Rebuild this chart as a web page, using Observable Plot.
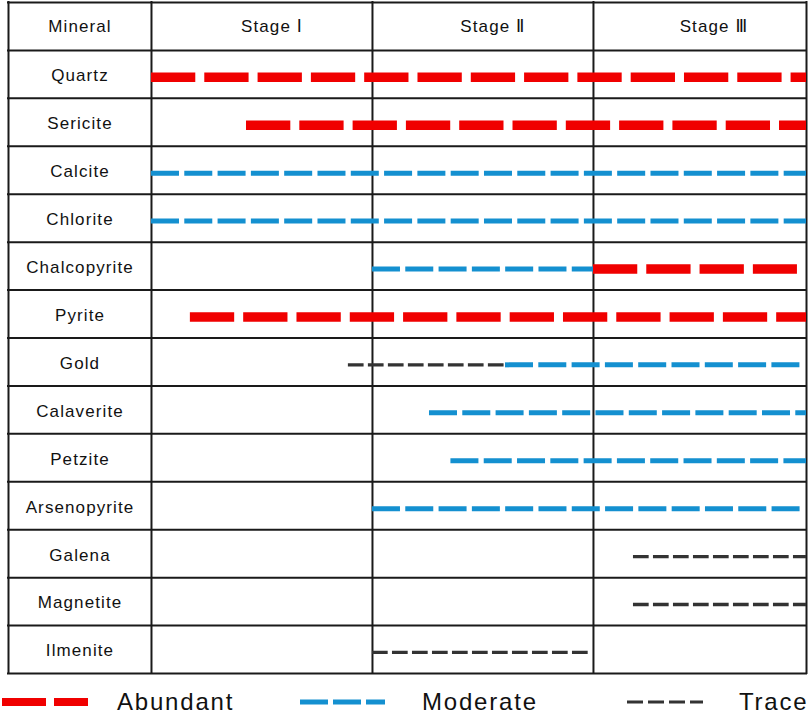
<!DOCTYPE html>
<html>
<head>
<meta charset="utf-8">
<script src="https://cdn.jsdelivr.net/npm/d3@7"></script>
<script src="https://cdn.jsdelivr.net/npm/@observablehq/plot@0.6"></script>
<style>
  html, body { margin: 0; padding: 0; background: #fff; }
  #chart svg text { letter-spacing: 1.1px; }
  #legend text { letter-spacing: 1.8px; }
</style>
</head>
<body>
<div id="chart"></div>
<div id="legend"></div>
<script>
// ---- data ----
const minerals = ["Quartz","Sericite","Calcite","Chlorite","Chalcopyrite","Pyrite","Gold","Calaverite","Petzite","Arsenopyrite","Galena","Magnetite","Ilmenite"];
const headerLabels = ["Mineral","Stage Ⅰ","Stage Ⅱ","Stage Ⅲ"];
const levels = ["Abundant","Moderate","Trace"];
// stage units: 0 = start of Stage I, 1 = start of Stage II, 2 = start of Stage III
const tableEnd = 2.964;   // visible right edge of Stage III column
const tableStart = -0.647; // left edge of the Mineral column
const segMineral = ["Quartz","Sericite","Calcite","Chlorite","Chalcopyrite","Chalcopyrite","Pyrite","Gold","Gold","Calaverite","Petzite","Arsenopyrite","Galena","Magnetite","Ilmenite"];
const segLevel   = ["Abundant","Abundant","Moderate","Moderate","Moderate","Abundant","Abundant","Trace","Moderate","Moderate","Moderate","Moderate","Trace","Trace","Trace"];
const segStart   = [0, 0.43, 0, 0, 1, 2, 0.176, 0.891, 1.602, 1.258, 1.355, 1, 2.181, 2.181, 1];
const segEnd     = [tableEnd, tableEnd, tableEnd, tableEnd, 2, 2.923, tableEnd, 1.602, 2.95, tableEnd, tableEnd, 2.95, tableEnd, tableEnd, 1.986];

// ---- styles ----
const levelStyle = {
  Abundant: {stroke: "#f00000", width: 9.5, dash: "44.3,9"},
  Moderate: {stroke: "#1490d0", width: 5, dash: "28,5.3"},
  Trace:    {stroke: "#333333", width: 3.3, dash: "15.7,4.3"}
};
const font = "'Liberation Sans', Arial, 'DejaVu Sans', sans-serif";

const segments = segMineral.map((m, i) => ({
  mineral: m, row: minerals.indexOf(m) + 1, level: segLevel[i], start: segStart[i], end: segEnd[i]
}));
const rows = d3.range(0, minerals.length + 2);
const colEdges = [tableStart, 0, 1, 2, tableEnd];
const headers = headerLabels.map((t, i) => ({text: t, x: i === 0 ? (tableStart + 0) / 2 : i - 0.5}));
const labelRows = minerals.map((m, i) => ({text: m, row: i + 1}));

const chart = Plot.plot({
  width: 809,
  height: 680,
  marginLeft: 8,
  marginRight: 3,
  marginTop: 2,
  marginBottom: 7,
  x: {domain: [tableStart, tableEnd], axis: null},
  y: {domain: [0, minerals.length + 1], reverse: true, axis: null},
  style: {fontFamily: font, background: "#fff"},
  marks: [
    Plot.ruleY(rows, {y: d => d, x1: tableStart, x2: tableEnd, stroke: "#1a1a1a", strokeWidth: 2, strokeLinecap: "square"}),
    Plot.ruleX(colEdges, {x: d => d, y1: 0, y2: minerals.length + 1, stroke: "#1a1a1a", strokeWidth: 2, strokeLinecap: "square"}),
    ...levels.map(lv => Plot.ruleY(segments.filter(s => s.level === lv), {
      y: s => s.row + 0.56, x1: "start", x2: "end",
      stroke: levelStyle[lv].stroke, strokeWidth: levelStyle[lv].width, strokeDasharray: levelStyle[lv].dash
    })),
    Plot.text(headers.slice(0, 1), {x: "x", y: 0.5, text: "text", fontSize: 17, fill: "#111"}),
    Plot.text(headers.slice(1), {x: "x", y: 0.5, text: "text", fontSize: 17, fill: "#111", dx: 10}),
    Plot.text(labelRows, {x: (tableStart + 0) / 2, y: d => d.row + 0.53, text: "text", fontSize: 17, fill: "#111"})
  ]
});
document.getElementById("chart").appendChild(chart);

// ---- legend below the chart ----
const legendLayout = [
  {x1: 2, x2: 88, tx: 117, w: 8, dash: "44,8"},
  {x1: 300, x2: 385, tx: 422, w: 5, dash: "28,5"},
  {x1: 627, x2: 703, tx: 739, w: 3, dash: "16,5"}
];
const lsvg = d3.select("#legend").append("svg")
  .attr("width", 809).attr("height", 36).style("display", "block");
levels.forEach((lv, i) => {
  const L = legendLayout[i], s = levelStyle[lv];
  lsvg.append("line")
    .attr("x1", L.x1).attr("x2", L.x2).attr("y1", 22).attr("y2", 22)
    .attr("stroke", s.stroke)
    .attr("stroke-width", L.w)
    .attr("stroke-dasharray", L.dash);
  lsvg.append("text")
    .attr("x", L.tx).attr("y", 30)
    .attr("font-family", font).attr("font-size", 24).attr("fill", "#111")
    .text(lv);
});
</script>
</body>
</html>
